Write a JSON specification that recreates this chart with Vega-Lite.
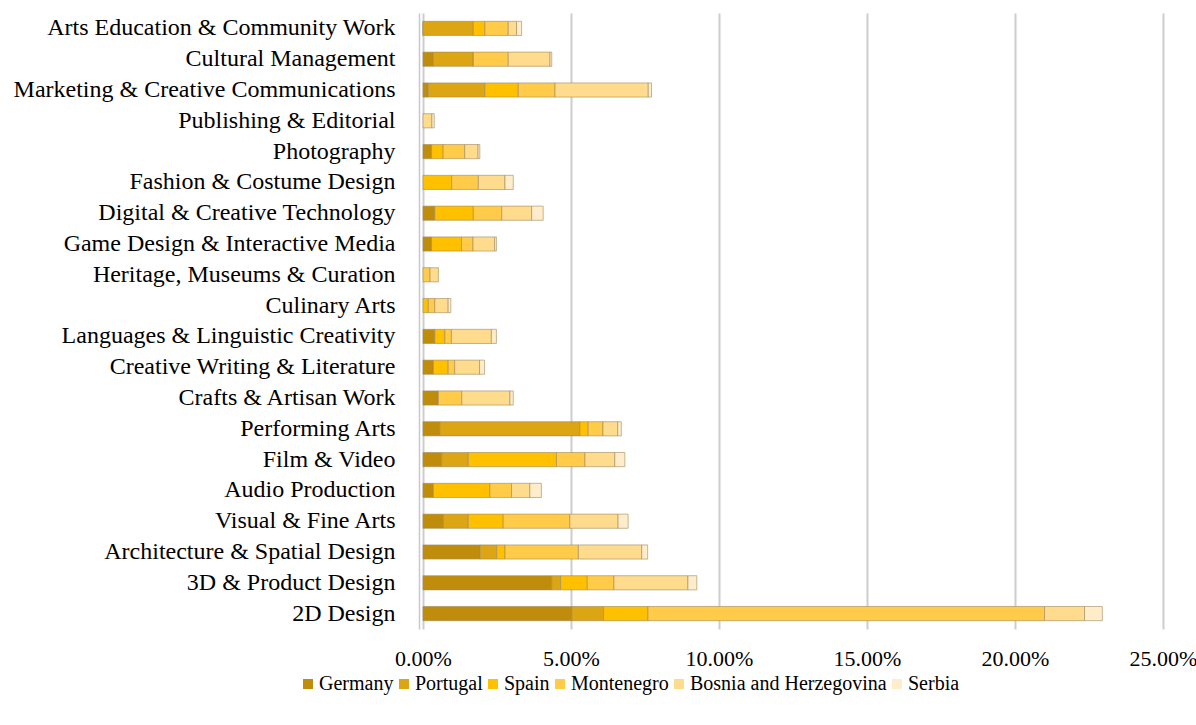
{
  "$schema": "https://vega.github.io/schema/vega-lite/v6.json",
  "width": 740,
  "height": 616,
  "autosize": {"type": "none"},
  "padding": {"left": 423, "top": 13, "right": 33, "bottom": 96},
  "background": "white",
  "config": {
    "font": "Liberation Serif",
    "view": {"stroke": null}
  },
  "data": {
    "values": [
      {"cat": "Arts Education & Community Work", "country": "Germany", "v": 0.0},
      {"cat": "Arts Education & Community Work", "country": "Portugal", "v": 1.7},
      {"cat": "Arts Education & Community Work", "country": "Spain", "v": 0.39},
      {"cat": "Arts Education & Community Work", "country": "Montenegro", "v": 0.79},
      {"cat": "Arts Education & Community Work", "country": "Bosnia and Herzegovina", "v": 0.28},
      {"cat": "Arts Education & Community Work", "country": "Serbia", "v": 0.17},

      {"cat": "Cultural Management", "country": "Germany", "v": 0.35},
      {"cat": "Cultural Management", "country": "Portugal", "v": 1.35},
      {"cat": "Cultural Management", "country": "Spain", "v": 0.0},
      {"cat": "Cultural Management", "country": "Montenegro", "v": 1.18},
      {"cat": "Cultural Management", "country": "Bosnia and Herzegovina", "v": 1.41},
      {"cat": "Cultural Management", "country": "Serbia", "v": 0.06},

      {"cat": "Marketing & Creative Communications", "country": "Germany", "v": 0.18},
      {"cat": "Marketing & Creative Communications", "country": "Portugal", "v": 1.91},
      {"cat": "Marketing & Creative Communications", "country": "Spain", "v": 1.13},
      {"cat": "Marketing & Creative Communications", "country": "Montenegro", "v": 1.24},
      {"cat": "Marketing & Creative Communications", "country": "Bosnia and Herzegovina", "v": 3.15},
      {"cat": "Marketing & Creative Communications", "country": "Serbia", "v": 0.11},

      {"cat": "Publishing & Editorial", "country": "Bosnia and Herzegovina", "v": 0.3},
      {"cat": "Publishing & Editorial", "country": "Serbia", "v": 0.08},

      {"cat": "Photography", "country": "Germany", "v": 0.29},
      {"cat": "Photography", "country": "Spain", "v": 0.39},
      {"cat": "Photography", "country": "Montenegro", "v": 0.73},
      {"cat": "Photography", "country": "Bosnia and Herzegovina", "v": 0.45},
      {"cat": "Photography", "country": "Serbia", "v": 0.06},

      {"cat": "Fashion & Costume Design", "country": "Spain", "v": 0.97},
      {"cat": "Fashion & Costume Design", "country": "Montenegro", "v": 0.9},
      {"cat": "Fashion & Costume Design", "country": "Bosnia and Herzegovina", "v": 0.9},
      {"cat": "Fashion & Costume Design", "country": "Serbia", "v": 0.28},

      {"cat": "Digital & Creative Technology", "country": "Germany", "v": 0.4},
      {"cat": "Digital & Creative Technology", "country": "Spain", "v": 1.3},
      {"cat": "Digital & Creative Technology", "country": "Montenegro", "v": 0.96},
      {"cat": "Digital & Creative Technology", "country": "Bosnia and Herzegovina", "v": 1.01},
      {"cat": "Digital & Creative Technology", "country": "Serbia", "v": 0.39},

      {"cat": "Game Design & Interactive Media", "country": "Germany", "v": 0.29},
      {"cat": "Game Design & Interactive Media", "country": "Spain", "v": 1.01},
      {"cat": "Game Design & Interactive Media", "country": "Montenegro", "v": 0.39},
      {"cat": "Game Design & Interactive Media", "country": "Bosnia and Herzegovina", "v": 0.73},
      {"cat": "Game Design & Interactive Media", "country": "Serbia", "v": 0.06},

      {"cat": "Heritage, Museums & Curation", "country": "Montenegro", "v": 0.24},
      {"cat": "Heritage, Museums & Curation", "country": "Bosnia and Herzegovina", "v": 0.28},

      {"cat": "Culinary Arts", "country": "Spain", "v": 0.18},
      {"cat": "Culinary Arts", "country": "Montenegro", "v": 0.22},
      {"cat": "Culinary Arts", "country": "Bosnia and Herzegovina", "v": 0.45},
      {"cat": "Culinary Arts", "country": "Serbia", "v": 0.09},

      {"cat": "Languages & Linguistic Creativity", "country": "Germany", "v": 0.4},
      {"cat": "Languages & Linguistic Creativity", "country": "Spain", "v": 0.34},
      {"cat": "Languages & Linguistic Creativity", "country": "Montenegro", "v": 0.22},
      {"cat": "Languages & Linguistic Creativity", "country": "Bosnia and Herzegovina", "v": 1.35},
      {"cat": "Languages & Linguistic Creativity", "country": "Serbia", "v": 0.17},

      {"cat": "Creative Writing & Literature", "country": "Germany", "v": 0.35},
      {"cat": "Creative Writing & Literature", "country": "Spain", "v": 0.5},
      {"cat": "Creative Writing & Literature", "country": "Montenegro", "v": 0.22},
      {"cat": "Creative Writing & Literature", "country": "Bosnia and Herzegovina", "v": 0.84},
      {"cat": "Creative Writing & Literature", "country": "Serbia", "v": 0.17},

      {"cat": "Crafts & Artisan Work", "country": "Germany", "v": 0.52},
      {"cat": "Crafts & Artisan Work", "country": "Montenegro", "v": 0.79},
      {"cat": "Crafts & Artisan Work", "country": "Bosnia and Herzegovina", "v": 1.63},
      {"cat": "Crafts & Artisan Work", "country": "Serbia", "v": 0.11},

      {"cat": "Performing Arts", "country": "Germany", "v": 0.57},
      {"cat": "Performing Arts", "country": "Portugal", "v": 4.73},
      {"cat": "Performing Arts", "country": "Spain", "v": 0.28},
      {"cat": "Performing Arts", "country": "Montenegro", "v": 0.5},
      {"cat": "Performing Arts", "country": "Bosnia and Herzegovina", "v": 0.5},
      {"cat": "Performing Arts", "country": "Serbia", "v": 0.12},

      {"cat": "Film & Video", "country": "Germany", "v": 0.63},
      {"cat": "Film & Video", "country": "Portugal", "v": 0.9},
      {"cat": "Film & Video", "country": "Spain", "v": 2.98},
      {"cat": "Film & Video", "country": "Montenegro", "v": 0.96},
      {"cat": "Film & Video", "country": "Bosnia and Herzegovina", "v": 1.01},
      {"cat": "Film & Video", "country": "Serbia", "v": 0.34},

      {"cat": "Audio Production", "country": "Germany", "v": 0.35},
      {"cat": "Audio Production", "country": "Spain", "v": 1.91},
      {"cat": "Audio Production", "country": "Montenegro", "v": 0.73},
      {"cat": "Audio Production", "country": "Bosnia and Herzegovina", "v": 0.62},
      {"cat": "Audio Production", "country": "Serbia", "v": 0.39},

      {"cat": "Visual & Fine Arts", "country": "Germany", "v": 0.69},
      {"cat": "Visual & Fine Arts", "country": "Portugal", "v": 0.84},
      {"cat": "Visual & Fine Arts", "country": "Spain", "v": 1.18},
      {"cat": "Visual & Fine Arts", "country": "Montenegro", "v": 2.25},
      {"cat": "Visual & Fine Arts", "country": "Bosnia and Herzegovina", "v": 1.63},
      {"cat": "Visual & Fine Arts", "country": "Serbia", "v": 0.34},

      {"cat": "Architecture & Spatial Design", "country": "Germany", "v": 1.93},
      {"cat": "Architecture & Spatial Design", "country": "Portugal", "v": 0.56},
      {"cat": "Architecture & Spatial Design", "country": "Spain", "v": 0.28},
      {"cat": "Architecture & Spatial Design", "country": "Montenegro", "v": 2.48},
      {"cat": "Architecture & Spatial Design", "country": "Bosnia and Herzegovina", "v": 2.14},
      {"cat": "Architecture & Spatial Design", "country": "Serbia", "v": 0.2},

      {"cat": "3D & Product Design", "country": "Germany", "v": 4.35},
      {"cat": "3D & Product Design", "country": "Portugal", "v": 0.3},
      {"cat": "3D & Product Design", "country": "Spain", "v": 0.9},
      {"cat": "3D & Product Design", "country": "Montenegro", "v": 0.9},
      {"cat": "3D & Product Design", "country": "Bosnia and Herzegovina", "v": 2.5},
      {"cat": "3D & Product Design", "country": "Serbia", "v": 0.3},

      {"cat": "2D Design", "country": "Germany", "v": 5.03},
      {"cat": "2D Design", "country": "Portugal", "v": 1.07},
      {"cat": "2D Design", "country": "Spain", "v": 1.5},
      {"cat": "2D Design", "country": "Montenegro", "v": 13.4},
      {"cat": "2D Design", "country": "Bosnia and Herzegovina", "v": 1.35},
      {"cat": "2D Design", "country": "Serbia", "v": 0.6}
    ]
  },
  "transform": [
    {"calculate": "indexof(['Germany','Portugal','Spain','Montenegro','Bosnia and Herzegovina','Serbia'], datum.country)", "as": "ord"}
  ],
  "mark": {"type": "bar", "stroke": "#a08a5a", "strokeWidth": 0.6},
  "encoding": {
    "y": {
      "field": "cat",
      "type": "nominal",
      "sort": ["Arts Education & Community Work", "Cultural Management", "Marketing & Creative Communications", "Publishing & Editorial", "Photography", "Fashion & Costume Design", "Digital & Creative Technology", "Game Design & Interactive Media", "Heritage, Museums & Curation", "Culinary Arts", "Languages & Linguistic Creativity", "Creative Writing & Literature", "Crafts & Artisan Work", "Performing Arts", "Film & Video", "Audio Production", "Visual & Fine Arts", "Architecture & Spatial Design", "3D & Product Design", "2D Design"],
      "scale": {"paddingInner": 0.54, "paddingOuter": 0.27},
      "axis": {
        "title": null,
        "ticks": false,
        "domain": true,
        "domainColor": "#c8c8d0",
        "domainWidth": 1.5,
        "offset": 4,
        "labelPadding": 24,
        "labelFontSize": 24,
        "labelColor": "#000000",
        "labelFont": "Liberation Serif",
        "labelLimit": 500
      }
    },
    "x": {
      "field": "v",
      "type": "quantitative",
      "aggregate": "sum",
      "stack": "zero",
      "scale": {"domain": [0, 25], "nice": false},
      "axis": {
        "title": null,
        "values": [0, 5, 10, 15, 20, 25],
        "labelExpr": "format(datum.value, '.2f') + '%'",
        "domain": false,
        "ticks": false,
        "grid": true,
        "gridColor": "#cdcdcd",
        "gridWidth": 2,
        "labelPadding": 19,
        "labelFontSize": 22,
        "labelColor": "#000000",
        "labelFont": "Liberation Serif",
        "labelDx": -8,
        "labelFlush": false
      }
    },
    "color": {
      "field": "country",
      "type": "nominal",
      "scale": {
        "domain": ["Germany", "Portugal", "Spain", "Montenegro", "Bosnia and Herzegovina", "Serbia"],
        "range": ["#bf8c0c", "#dca514", "#ffc000", "#ffcb48", "#ffdb8e", "#ffeccb"]
      },
      "legend": {
        "title": null,
        "orient": "none",
        "direction": "horizontal",
        "legendX": -125,
        "legendY": 661,
        "symbolType": "square",
        "symbolSize": 100,
        "symbolStrokeWidth": 0,
        "symbolOpacity": 1,
        "labelFontSize": 20,
        "labelFont": "Liberation Serif",
        "labelColor": "#000000",
        "labelOffset": 1,
        "columnPadding": -8,
        "labelLimit": 400
      }
    },
    "order": {"field": "ord", "type": "quantitative"}
  }
}
